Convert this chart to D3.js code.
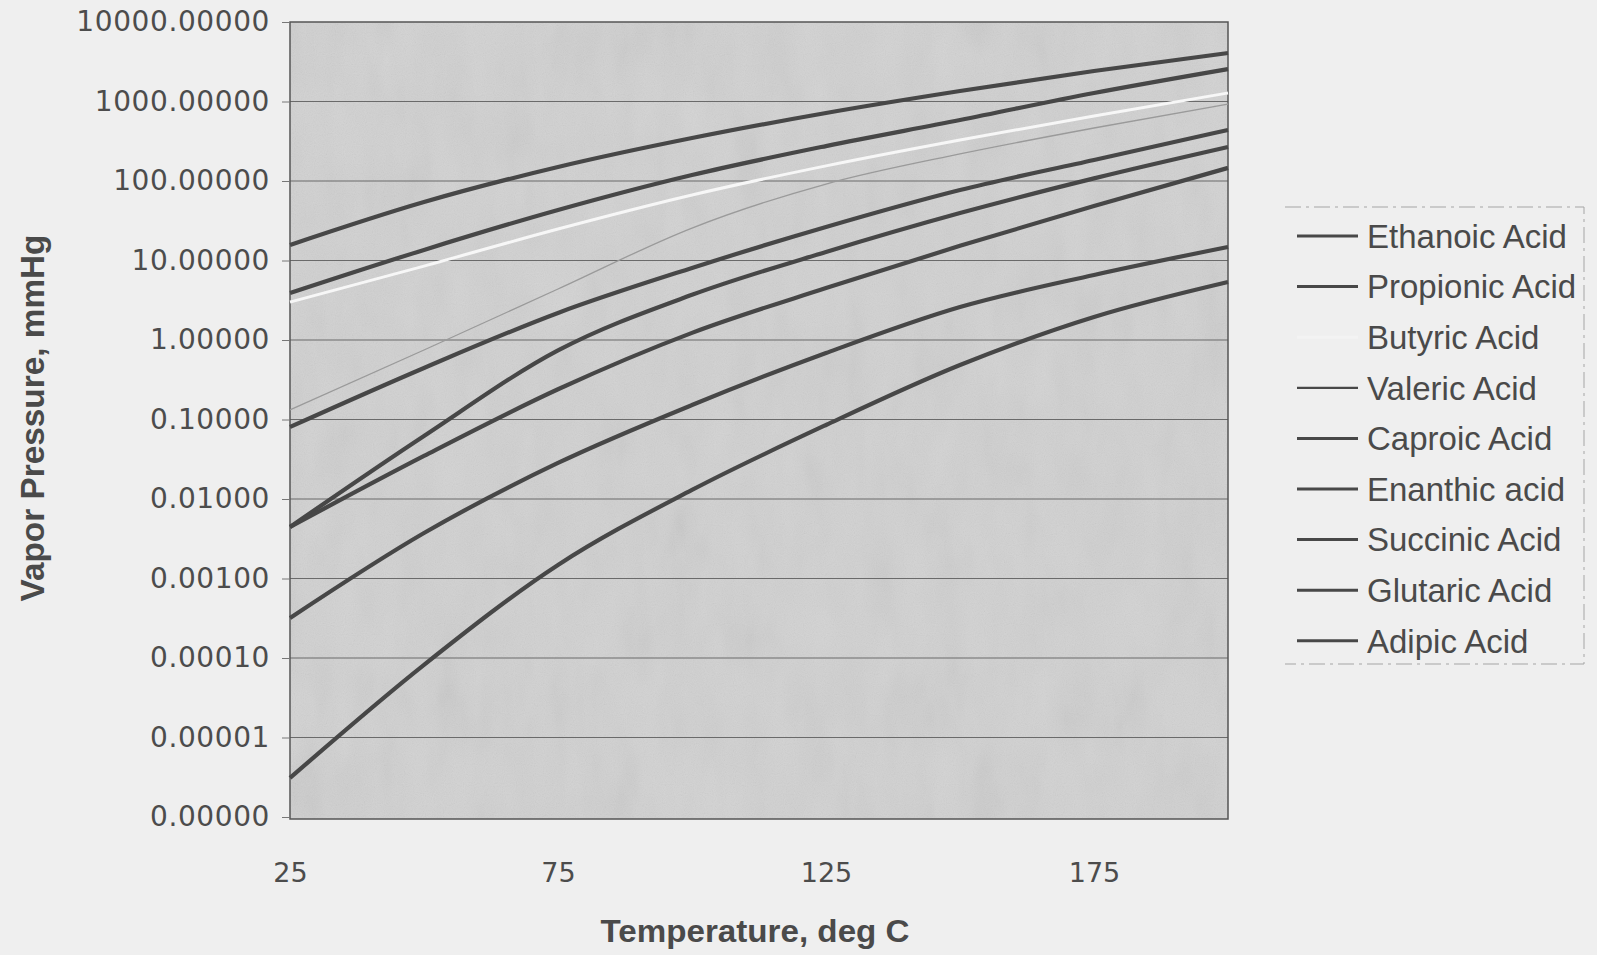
<!DOCTYPE html>
<html>
<head>
<meta charset="utf-8">
<script src="https://cdn.jsdelivr.net/npm/d3@7"></script>
<style>
  html, body { margin: 0; padding: 0; background: #efefef; }
  svg { display: block; }
</style>
</head>
<body>
<svg id="chart" width="1597" height="955"></svg>
<script>
// temperatures (deg C) where the curves were read
const temps = [25, 50, 75, 100, 125, 150, 175, 200];

// vapor pressures, mmHg
const ethanoic = [15.7, 54.4, 150, 347, 717, 1355, 2420, 4070];
const propionic = [3.9, 13.6, 43.2, 119, 275, 585, 1280, 2560];
const butyric = [3.0, 8.5, 24.9, 66.7, 155, 328, 658, 1280];
const valeric = [0.132, 0.748, 4.38, 25.6, 91.6, 219, 464, 930];
const caproic = [0.0805, 0.445, 2.19, 8.05, 26.4, 77, 184, 438];
const enanthic = [0.00445, 0.062, 0.74, 3.7, 12.8, 39.5, 108, 268];
const succinic = [0.00445, 0.0348, 0.24, 1.23, 4.5, 15.3, 48.5, 146];
const glutaric = [0.000318, 0.00373, 0.0284, 0.152, 0.686, 2.6, 6.58, 14.8];
const adipic = [0.0000031, 0.000082, 0.00148, 0.013, 0.0853, 0.485, 1.95, 5.37];

const seriesNames = [
  "Ethanoic Acid", "Propionic Acid", "Butyric Acid", "Valeric Acid",
  "Caproic Acid", "Enanthic acid", "Succinic Acid", "Glutaric Acid", "Adipic Acid"
];
const seriesValues = [
  ethanoic, propionic, butyric, valeric, caproic, enanthic, succinic, glutaric, adipic
];

const yTicks = [1e4, 1e3, 1e2, 1e1, 1, 0.1, 0.01, 0.001, 0.0001, 0.00001, 0.000001];
const xTicks = [25, 75, 125, 175];

const svg = d3.select("#chart");

// scan-like texture
const defs = svg.append("defs");
const grain = defs.append("filter").attr("id", "grain")
  .attr("x", 0).attr("y", 0).attr("width", 1).attr("height", 1);
grain.append("feTurbulence")
  .attr("type", "fractalNoise")
  .attr("baseFrequency", "0.9")
  .attr("numOctaves", 1)
  .attr("seed", 4);
grain.append("feColorMatrix").attr("type", "saturate").attr("values", 0);

const mottle = defs.append("filter").attr("id", "mottle")
  .attr("x", 0).attr("y", 0).attr("width", 1).attr("height", 1);
mottle.append("feTurbulence")
  .attr("type", "fractalNoise")
  .attr("baseFrequency", "0.03 0.012")
  .attr("numOctaves", 3)
  .attr("seed", 9);
mottle.append("feColorMatrix").attr("type", "saturate").attr("values", 0);

const plot = { left: 290, right: 1228, top: 22, bottom: 819 };

const x = d3.scaleLinear().domain([25, 200]).range([plot.left, plot.right]);
const y = d3.scaleLog().domain([0.000001, 10000]).range([817, 22]);

// plot area
const pw = plot.right - plot.left;
const ph = plot.bottom - plot.top;
svg.append("rect")
  .attr("x", plot.left).attr("y", plot.top)
  .attr("width", pw).attr("height", ph)
  .attr("fill", "#d2d2d2");
svg.append("rect")
  .attr("x", plot.left).attr("y", plot.top)
  .attr("width", pw).attr("height", ph)
  .attr("filter", "url(#mottle)")
  .attr("opacity", 0.14);
svg.append("rect")
  .attr("x", plot.left).attr("y", plot.top)
  .attr("width", pw).attr("height", ph)
  .attr("filter", "url(#grain)")
  .attr("opacity", 0.16);

// gridlines at each decade
svg.append("g")
  .selectAll("line")
  .data(yTicks.slice(1, -1))
  .join("line")
  .attr("x1", plot.left).attr("x2", plot.right)
  .attr("y1", (d) => y(d)).attr("y2", (d) => y(d))
  .attr("stroke", "#6a6a6a")
  .attr("stroke-width", 1.2);

svg.append("rect")
  .attr("x", plot.left).attr("y", plot.top)
  .attr("width", pw).attr("height", ph)
  .attr("fill", "none")
  .attr("stroke", "#555")
  .attr("stroke-width", 1.5);

// y axis
const yAxis = d3.axisLeft(y)
  .tickValues(yTicks)
  .tickSize(8)
  .tickPadding(12)
  .tickFormat((d) => d3.format(".5f")(d));

const yg = svg.append("g")
  .attr("transform", `translate(${plot.left},0)`)
  .call(yAxis);
yg.select(".domain").remove();
yg.selectAll(".tick line").attr("stroke", "#777").attr("stroke-width", 1);
yg.selectAll(".tick text")
  .attr("font-family", "DejaVu Sans, sans-serif")
  .attr("font-size", 28)
  .attr("letter-spacing", 0.6)
  .attr("fill", "#4c4c4c");

// x axis labels
const xg = svg.append("g")
  .attr("transform", `translate(0,${plot.bottom})`)
  .call(d3.axisBottom(x).tickValues(xTicks).tickSize(0).tickPadding(44));
xg.select(".domain").remove();
xg.selectAll(".tick text")
  .attr("font-family", "DejaVu Sans, sans-serif")
  .attr("font-size", 27)
  .attr("fill", "#4c4c4c");

// axis titles
svg.append("text")
  .attr("transform", "translate(44,418) rotate(-90)")
  .attr("text-anchor", "middle")
  .attr("font-family", "Liberation Sans Narrow, Arial Narrow, Liberation Sans, sans-serif")
  .attr("font-weight", "bold")
  .attr("font-size", 34)
  .attr("textLength", 367)
  .attr("lengthAdjust", "spacingAndGlyphs")
  .attr("fill", "#4a4a4a")
  .text("Vapor Pressure, mmHg");

svg.append("text")
  .attr("x", 755).attr("y", 942)
  .attr("text-anchor", "middle")
  .attr("font-family", "Liberation Sans Narrow, Arial Narrow, Liberation Sans, sans-serif")
  .attr("font-weight", "bold")
  .attr("font-size", 32)
  .attr("textLength", 309)
  .attr("lengthAdjust", "spacingAndGlyphs")
  .attr("fill", "#4a4a4a")
  .text("Temperature, deg C");

// line styles by series: butyric white, valeric thin and faint
const lineColor = (i) => (i === 2 ? "#f7f7f7" : i === 3 ? "#9a9a9a" : "#474747");
const lineWidth = (i) => (i === 2 ? 3 : i === 3 ? 1.3 : 4.2);

const line = d3.line()
  .x((d) => x(d[0]))
  .y((d) => y(d[1]))
  .curve(d3.curveMonotoneX);

const series = seriesNames.map((name, i) => ({
  name,
  i,
  points: temps.map((t, k) => [t, seriesValues[i][k]])
}));

svg.append("g")
  .selectAll("path")
  .data(series)
  .join("path")
  .attr("d", (d) => line(d.points))
  .attr("fill", "none")
  .attr("stroke", (d) => lineColor(d.i))
  .attr("stroke-width", (d) => lineWidth(d.i))
  .attr("stroke-linejoin", "round");

// legend (faint dashed frame, left edge not visible in the scan)
const legend = svg.append("g");
legend.append("path")
  .attr("d", "M1285,207 H1584 V664 H1285")
  .attr("fill", "none")
  .attr("stroke", "#a5a5a5")
  .attr("stroke-width", 1)
  .attr("stroke-dasharray", "16,5,3,5");

const items = legend.selectAll("g.item")
  .data(series)
  .join("g")
  .attr("class", "item")
  .attr("transform", (d) => `translate(0,${236 + d.i * 50.6})`);

items.append("line")
  .attr("x1", 1297).attr("x2", 1358)
  .attr("stroke", (d) => (d.i === 2 ? "#f3f3f3" : "#484848"))
  .attr("stroke-width", (d) => (d.i === 3 ? 2.2 : 3));

items.append("text")
  .attr("x", 1367)
  .attr("dy", "0.36em")
  .attr("font-family", "Liberation Sans, Arial, sans-serif")
  .attr("font-size", 33)
  .attr("fill", "#4a4a4a")
  .text((d) => d.name);
</script>
</body>
</html>
